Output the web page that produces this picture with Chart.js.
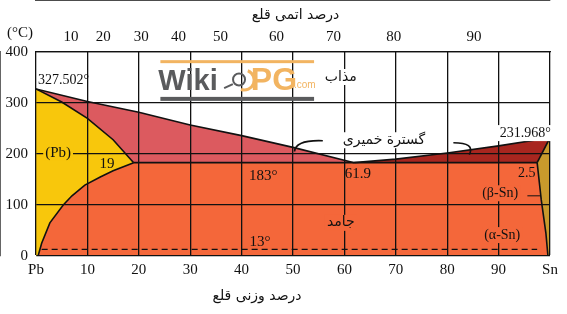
<!DOCTYPE html>
<html>
<head>
<meta charset="utf-8">
<script src="https://cdn.jsdelivr.net/npm/chart.js@4.4.1/dist/chart.umd.min.js"></script>
<style>
  html, body { margin: 0; padding: 0; background: #fff; }
  #wrap { width: 567px; height: 314px; position: relative; }
</style>
</head>
<body>
<div id="wrap"><canvas id="chart"></canvas></div>
<script>
// phase boundaries: [wt% Sn, temperature °C]
const liquidusPb = [[0, 327.5], [10, 303], [20, 282], [30, 257], [40, 236], [50, 213], [61.9, 183]];
const liquidusSn = [[61.9, 183], [70, 190], [80, 202], [90, 216], [100, 232]];
const solidusPb = [[0, 327.5], [5, 302], [10, 270], [15, 228], [19, 183]];
const solvusPb = [[19, 183], [15, 167], [12.5, 155], [9.5, 139], [7, 118], [5.3, 100], [2.7, 65], [1.1, 25], [0.4, 0]];
const eutecticLine = [[19, 183], [97.5, 183]];
const solidusSn = [[97.5, 183], [100, 232]];
const solvusSn = [[97.5, 183], [98.3, 110], [99.2, 45], [99.6, 0]];
const alphaBetaLine = [[1.1, 13], [97.5, 13]];

// axis ticks
const weightTicks = [0, 10, 20, 30, 40, 50, 60, 70, 80, 90, 100];
const weightTickLabels = ['Pb', '10', '20', '30', '40', '50', '60', '70', '80', '90', 'Sn'];
const atomicTickLabels = ['10', '20', '30', '40', '50', '60', '70', '80', '90'];
const atomicTickAtWeight = [6.8, 13.1, 20.5, 27.7, 35.9, 46.8, 57.9, 69.6, 85.2];
const tempTicks = [0, 100, 200, 300, 400];

const serif = 'Liberation Serif';
const persian = 'DejaVu Sans';

const pts = arr => arr.map(p => ({x: p[0], y: p[1]}));

// closed regions built from the boundaries
const regionPb = [[0, 0]].concat(solidusPb, solvusPb.slice(1));
const regionLiqPb = liquidusPb.concat([[19, 183]], solidusPb.slice().reverse().slice(1, -1));
const regionSolid = solvusPb.slice().reverse().concat(eutecticLine.slice(1), solvusSn.slice(1));
const regionLiqSn = liquidusSn.concat([[97.5, 183]]);
const regionSn = solidusSn.slice().reverse().concat(solvusSn.slice(1), [[100, 0]]);

function area(data, color) {
    return {data: pts(data), showLine: true, fill: 'shape', backgroundColor: color,
            borderWidth: 0, pointRadius: 0, order: 10};
}
function edge(data, extra) {
    return Object.assign({data: pts(data), showLine: true, fill: false, borderColor: '#111',
            borderWidth: 1.6, pointRadius: 0, order: 1}, extra || {});
}

// text on the diagram: [text, wt%, °C, font, align, background]
const labels = [
    ['327.502°', 0.4, 345, '14px ' + serif, 'left', null],
    ['(Pb)', 4.3, 202, '15px ' + serif, 'center', '#f8c70c'],
    ['19', 13.8, 181, '15px ' + serif, 'center', null],
    ['183°', 44.2, 157, '15px ' + serif, 'center', null],
    ['61.9', 62.6, 161, '15px ' + serif, 'center', null],
    ['مذاب', 59.3, 351, '14px ' + persian, 'center', '#fff'],
    ['گسترة خمیری', 67.7, 227, '14px ' + persian, 'center', '#fff'],
    ['جامد', 59.3, 65, '14px ' + persian, 'center', '#f4673a'],
    ['13°', 43.6, 27, '15px ' + serif, 'center', null],
    ['(β-Sn)', 90.3, 123, '14px ' + serif, 'center', '#f4673a'],
    ['(α-Sn)', 90.7, 41, '14px ' + serif, 'center', '#f4673a'],
    ['2.5', 95.5, 163, '14px ' + serif, 'center', null],
    ['231.968°', 95.2, 241, '14px ' + serif, 'center', '#fff'],
    ['(°C)', -3.1, 437, '15px ' + serif, 'center', null],
    ['درصد اتمی قلع', 50.5, 472, '14px ' + persian, 'center', null],
    ['درصد وزنی قلع', 43, -80, '14px ' + persian, 'center', null]
];

const annotate = {
    id: 'annotate',
    afterDraw(chart) {
        const {ctx, scales: {x, y}} = chart;
        const X = v => x.getPixelForValue(v), Y = v => y.getPixelForValue(v);
        ctx.save();

        // watermark
        ctx.fillStyle = '#f2b461';
        ctx.fillRect(X(24.2), Y(384), X(54.1) - X(24.2), 3);
        ctx.fillStyle = '#5a5b5d';
        ctx.fillRect(X(24.2), Y(312), X(54.1) - X(24.2), 4);
        ctx.font = 'bold 29px Liberation Sans';
        ctx.textAlign = 'left';
        ctx.textBaseline = 'alphabetic';
        ctx.fillText('Wiki', X(23.8), Y(326));
        ctx.strokeStyle = '#5a5b5d';
        ctx.lineWidth = 2;
        ctx.beginPath();
        ctx.arc(X(39.5), Y(346), 6, 0, Math.PI * 2);
        ctx.moveTo(X(38.3), Y(337)); ctx.lineTo(X(36.6), Y(329));
        ctx.stroke();
        ctx.strokeStyle = '#f2b461';
        ctx.lineWidth = 3;
        ctx.beginPath();
        ctx.arc(X(40.5), Y(345), 10, -1.2, 1.9);
        ctx.stroke();
        ctx.fillStyle = '#f2b461';
        ctx.font = 'bold 32px Liberation Sans';
        ctx.fillText('PG', X(41.8), Y(326));
        ctx.font = '10px Liberation Sans';
        ctx.fillText('.com', X(50.2), Y(329));

        // leaders from the mushy-zone label
        ctx.strokeStyle = '#111';
        ctx.lineWidth = 1.6;
        ctx.beginPath();
        ctx.moveTo(X(55.8), Y(226));
        ctx.quadraticCurveTo(X(50.5), Y(228), X(50.3), Y(205));
        ctx.moveTo(X(81.2), Y(222));
        ctx.quadraticCurveTo(X(85.5), Y(222), X(84.3), Y(199));
        ctx.stroke();
        // small pointer into the (Sn) field
        ctx.lineWidth = 1;
        ctx.beginPath();
        ctx.moveTo(X(95.6), Y(118)); ctx.lineTo(X(98.2), Y(118));
        ctx.stroke();

        ctx.textBaseline = 'middle';
        labels.forEach(([text, wx, ty, font, align, bg]) => {
            ctx.font = font;
            ctx.textAlign = align;
            const px = X(wx), py = Y(ty);
            if (bg) {
                const w = ctx.measureText(text).width;
                const left = align === 'left' ? px : px - w / 2;
                ctx.fillStyle = bg;
                ctx.fillRect(left - 2, py - 8, w + 4, 16);
            }
            ctx.fillStyle = '#111';
            ctx.fillText(text, px, py);
        });
        ctx.restore();
    }
};

new Chart(document.getElementById('chart'), {
    type: 'scatter',
    data: {
        datasets: [
            edge(liquidusPb), edge(liquidusSn), edge(solidusPb), edge(solvusPb),
            edge(eutecticLine), edge(solidusSn), edge(solvusSn),
            edge(alphaBetaLine, {borderDash: [6, 4], borderWidth: 1.3}),
            area(regionPb, '#f8c70c'),
            area(regionLiqPb, '#dc5a5f'),
            area(regionSolid, '#f4673a'),
            area(regionLiqSn, '#a8261f'),
            area(regionSn, '#c99a2c')
        ]
    },
    options: {
        responsive: true,
        maintainAspectRatio: false,
        animation: false,
        layout: {padding: {left: 0, right: 17, top: 0, bottom: 0}},
        plugins: {legend: {display: false}, tooltip: {enabled: false}},
        scales: {
            x: {
                type: 'linear', position: 'bottom', min: 0, max: 100,
                afterBuildTicks: s => { s.ticks = weightTicks.map(v => ({value: v})); },
                afterFit: s => { s.height = 58; },
                ticks: {
                    autoSkip: false, maxRotation: 0, padding: 5, color: '#111',
                    font: {family: serif, size: 15},
                    callback: (v, i) => weightTickLabels[i]
                },
                grid: {color: '#111', lineWidth: 1.3, drawTicks: false, z: 1},
                border: {color: '#111', width: 1.3}
            },
            x2: {
                type: 'linear', position: 'top', min: 0, max: 100,
                afterBuildTicks: s => { s.ticks = atomicTickAtWeight.map(v => ({value: v})); },
                afterFit: s => { s.height = 52; },
                ticks: {
                    autoSkip: false, maxRotation: 0, padding: 6, color: '#111',
                    font: {family: serif, size: 15},
                    callback: (v, i) => atomicTickLabels[i]
                },
                grid: {display: false, drawTicks: false},
                border: {color: '#111', width: 1.3}
            },
            y: {
                min: 0, max: 400,
                afterBuildTicks: s => { s.ticks = tempTicks.map(v => ({value: v})); },
                afterFit: s => { s.width = 36; },
                ticks: {padding: 8, color: '#111', font: {family: serif, size: 15}},
                grid: {color: '#111', lineWidth: 1.3, drawTicks: false, z: 1},
                border: {color: '#111', width: 1.3}
            }
        }
    },
    plugins: [annotate]
});
</script>
</body>
</html>
